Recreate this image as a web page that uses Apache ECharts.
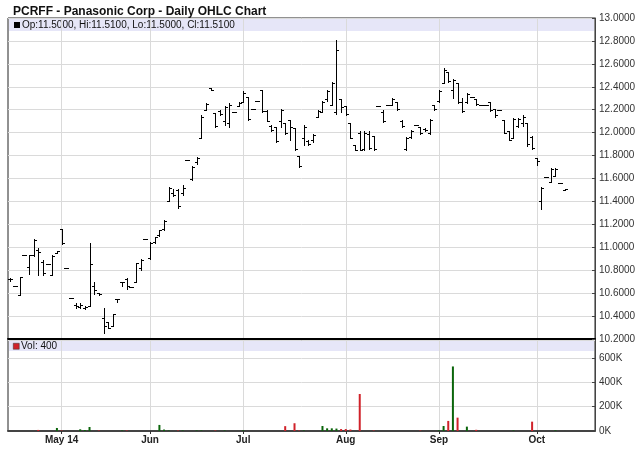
<!DOCTYPE html>
<html><head><meta charset="utf-8">
<script src="https://cdn.jsdelivr.net/npm/echarts@6/dist/echarts.min.js"></script>
<style>html,body{margin:0;padding:0;background:#fff}#c{width:640px;height:468px}</style>
</head><body><div id="c"></div>
<script>
const dates = [
'2014-04-15','2014-04-16','2014-04-17','2014-04-21','2014-04-22','2014-04-23','2014-04-24','2014-04-25','2014-04-28','2014-04-29','2014-04-30',
'2014-05-01','2014-05-02','2014-05-05','2014-05-06','2014-05-07','2014-05-08','2014-05-12','2014-05-13','2014-05-14','2014-05-15','2014-05-16','2014-05-19','2014-05-20','2014-05-21','2014-05-22','2014-05-27','2014-05-28','2014-05-29','2014-05-30',
'2014-06-02','2014-06-03','2014-06-04','2014-06-05','2014-06-06','2014-06-09','2014-06-10','2014-06-11','2014-06-12','2014-06-13','2014-06-16','2014-06-17','2014-06-18','2014-06-19','2014-06-23','2014-06-24','2014-06-25','2014-06-26','2014-06-27','2014-06-30',
'2014-07-01','2014-07-02','2014-07-03','2014-07-07','2014-07-08','2014-07-09','2014-07-10','2014-07-11','2014-07-14','2014-07-15','2014-07-16','2014-07-17','2014-07-18','2014-07-21','2014-07-22','2014-07-23','2014-07-24','2014-07-25','2014-07-28','2014-07-29','2014-07-30','2014-07-31',
'2014-08-01','2014-08-04','2014-08-05','2014-08-06','2014-08-07','2014-08-08','2014-08-11','2014-08-12','2014-08-13','2014-08-14','2014-08-15','2014-08-18','2014-08-19','2014-08-20','2014-08-21','2014-08-25','2014-08-26','2014-08-27','2014-08-28','2014-08-29',
'2014-09-02','2014-09-03','2014-09-04','2014-09-05','2014-09-08','2014-09-09','2014-09-10','2014-09-11','2014-09-12','2014-09-15','2014-09-16','2014-09-17','2014-09-18','2014-09-19','2014-09-22','2014-09-23','2014-09-24','2014-09-25','2014-09-26','2014-09-29','2014-09-30',
'2014-10-01','2014-10-02','2014-10-03','2014-10-06','2014-10-07','2014-10-08','2014-10-09',
'2014-10-10','2014-10-13','2014-10-14','2014-10-15','2014-10-16','2014-10-17'
];
const monthLabels = ['May 14','Jun','Jul','Aug','Sep','Oct'];
const priceTicks = {min: 10.2, max: 13.0, step: 0.2};
const volTicks = {min: 0, max: 750000, step: 200000};

const opens = [
10.72,10.66,10.58,10.93,10.83,10.93,10.98,10.87,10.85,10.76,
10.95,11.16,10.82,10.56,10.50,10.48,10.47,10.49,10.66,10.60,
10.38,10.35,10.31,10.55,10.70,10.72,10.65,10.70,10.82,11.07,
10.91,11.05,11.11,11.16,11.40,11.47,11.50,11.47,11.76,11.60,
11.74,11.95,12.20,12.39,12.17,12.19,12.10,12.08,12.18,12.23,
12.27,12.31,12.21,12.28,12.37,12.19,12.06,12.05,12.10,12.08,
12.11,12.04,11.80,11.95,11.93,11.94,12.14,12.18,12.29,12.24,
12.18,12.29,12.23,12.08,11.89,12.00,11.86,11.99,11.97,12.23,
12.18,12.24,12.24,12.27,12.10,11.86,11.96,12.07,12.05,12.03,
12.00,12.24,12.28,12.43,12.53,12.37,12.43,12.27,12.27,12.31,
12.29,12.24,12.24,12.27,12.21,12.20,12.11,12.01,11.95,12.06,
12.08,12.08,11.96,11.78,11.40,11.61,11.57,11.62,11.56,11.50];
const highs = [
10.73,10.66,10.74,10.93,10.93,11.07,10.99,10.89,10.85,10.93,
10.97,11.16,10.82,10.56,10.51,10.51,10.49,11.04,10.70,10.60,
10.47,10.35,10.42,10.55,10.70,10.73,10.65,10.86,10.90,11.07,
11.05,11.09,11.15,11.24,11.53,11.51,11.51,11.54,11.76,11.71,
11.79,12.15,12.26,12.39,12.17,12.20,12.23,12.26,12.18,12.27,
12.36,12.31,12.21,12.28,12.37,12.20,12.07,12.05,12.21,12.08,
12.11,12.04,11.80,12.07,11.94,11.99,12.20,12.28,12.37,12.44,
12.81,12.29,12.23,12.08,11.89,12.01,12.01,12.01,11.97,12.23,
12.20,12.24,12.30,12.27,12.11,11.96,12.02,12.07,12.05,12.04,
12.12,12.24,12.37,12.56,12.53,12.47,12.43,12.30,12.35,12.31,
12.29,12.24,12.24,12.27,12.21,12.20,12.11,12.01,12.13,12.13,
12.15,12.08,11.97,11.78,11.53,11.61,11.69,11.69,11.56,11.51];
const lows = [
10.71,10.66,10.58,10.93,10.77,10.92,10.76,10.76,10.85,10.76,
10.95,11.03,10.82,10.56,10.47,10.47,10.46,10.49,10.59,10.58,
10.25,10.30,10.31,10.52,10.66,10.64,10.65,10.70,10.80,11.07,
10.90,11.04,11.10,11.15,11.40,11.45,11.34,11.46,11.76,11.59,
11.73,11.95,12.20,12.37,12.05,12.15,12.07,12.05,12.18,12.23,
12.27,12.11,12.21,12.28,12.18,12.10,12.01,11.92,12.05,11.99,
11.94,11.85,11.70,11.89,11.89,11.92,12.14,12.18,12.28,12.24,
12.16,12.18,12.15,11.95,11.85,11.85,11.85,11.86,11.85,12.23,
12.09,12.24,12.24,12.20,12.05,11.85,11.95,12.07,11.99,12.01,
11.99,12.20,12.27,12.43,12.44,12.30,12.26,12.18,12.26,12.31,
12.24,12.24,12.24,12.19,12.14,12.20,12.00,11.94,11.95,12.05,
12.06,11.88,11.86,11.72,11.33,11.61,11.57,11.62,11.56,11.50];
const closes = [
10.72,10.66,10.74,10.93,10.93,11.06,10.96,10.78,10.85,10.92,
10.97,11.04,10.82,10.56,10.49,10.50,10.48,10.85,10.63,10.59,
10.31,10.30,10.42,10.55,10.70,10.66,10.65,10.86,10.89,11.07,
11.04,11.09,11.15,11.23,11.52,11.46,11.36,11.52,11.76,11.70,
11.78,12.14,12.25,12.37,12.06,12.16,12.22,12.24,12.18,12.26,
12.35,12.12,12.21,12.28,12.19,12.10,12.02,11.93,12.20,12.00,
12.05,11.86,11.71,12.05,11.90,11.98,12.19,12.27,12.36,12.43,
12.72,12.22,12.16,11.95,11.85,11.85,12.00,11.87,11.86,12.23,
12.10,12.24,12.29,12.21,12.06,11.95,12.01,12.07,12.00,12.02,
12.11,12.21,12.36,12.55,12.45,12.46,12.27,12.19,12.34,12.31,
12.25,12.24,12.24,12.20,12.15,12.20,12.00,11.94,12.12,12.12,
12.14,11.90,11.87,11.75,11.52,11.61,11.68,11.68,11.56,11.51];
const volumes = [
0,0,0,0,0,0,9000,0,0,0,
25000,4000,0,0,0,14000,8000,33000,0,4000,
0,0,0,0,4000,4000,0,0,0,0,
0,0,50000,12000,4000,0,4000,4000,0,0,
4000,4000,0,0,4000,0,4000,0,0,0,
5000,0,0,0,0,0,0,0,0,40000,
0,64000,4000,4000,0,0,0,41000,22000,22000,
20000,16000,16000,12000,0,305000,0,0,4000,0,
0,0,0,0,0,0,0,0,4000,0,
0,0,5000,41000,83000,532000,110000,0,36000,0,
10000,0,0,0,0,0,0,0,4000,0,
0,0,77000,0,0,0,0,5000,0,400];

const n = closes.length;
const ohlc = [];
for (let i = 0; i < n; i++) ohlc.push([i, opens[i], highs[i], lows[i], closes[i]]);
const volData = volumes.map((v, i) => ({
  value: v,
  itemStyle: {color: closes[i] >= opens[i] ? '#0b650b' : '#d0222a'}
}));

// month-start categories
const monthStartIdx = [];
for (let i = 1; i < dates.length; i++) {
  if (dates[i].slice(5, 7) !== dates[i - 1].slice(5, 7)) monthStartIdx.push(i);
}
const labelMap = {};
monthStartIdx.forEach((idx, k) => { labelMap[dates[idx]] = monthLabels[k] || ''; });
const isMonthStart = (idx) => monthStartIdx.indexOf(idx) >= 0;

const last = n - 1;
const legendText = 'Op:' + opens[last].toFixed(4) + ', Hi:' + highs[last].toFixed(4) +
  ', Lo:' + lows[last].toFixed(4) + ', Cl:' + closes[last].toFixed(4);
const volText = 'Vol: ' + volumes[last];

const FONT = '"Liberation Sans", Arial, sans-serif';
const gridColor = '#dadada';

function renderOHLC(params, api) {
  const x = api.value(0);
  const pO = api.coord([x, api.value(1)]);
  const pH = api.coord([x, api.value(2)]);
  const pL = api.coord([x, api.value(3)]);
  const pC = api.coord([x, api.value(4)]);
  const cx = Math.round(pH[0]) + 0.5;
  const t = 2.5;
  const style = {stroke: '#000', lineWidth: 1};
  const yo = Math.round(pO[1]) + 0.5, yc = Math.round(pC[1]) + 0.5;
  return {type: 'group', children: [
    {type: 'line', shape: {x1: cx, y1: Math.round(pH[1]), x2: cx, y2: Math.round(pL[1]) + 1}, style: style},
    {type: 'line', shape: {x1: cx - t, y1: yo, x2: cx, y2: yo}, style: style},
    {type: 'line', shape: {x1: cx, y1: yc, x2: cx + t, y2: yc}, style: style}
  ]};
}

const chart = echarts.init(document.getElementById('c'), null, {renderer: 'canvas'});
chart.setOption({
  animation: false,
  backgroundColor: '#fff',
  textStyle: {fontFamily: FONT},
  title: {
    text: 'PCRFF - Panasonic Corp - Daily OHLC Chart',
    left: 8, top: 1,
    textStyle: {fontSize: 12, fontWeight: 'bold', color: '#111', fontFamily: FONT}
  },
  grid: [
    {left: 8, top: 18, width: 587, height: 321, show: true, borderColor: '#222', borderWidth: 1},
    {left: 8, top: 340, width: 587, height: 91, show: true, borderColor: '#222', borderWidth: 1}
  ],
  xAxis: [
    {
      type: 'category', gridIndex: 0, data: dates, boundaryGap: true,
      axisLine: {show: true, lineStyle: {color: '#000', width: 2}},
      axisTick: {show: false}, axisLabel: {show: false},
      splitLine: {show: true, alignWithLabel: true, interval: (i) => isMonthStart(i), lineStyle: {color: gridColor, width: 1}}
    },
    {
      type: 'category', gridIndex: 1, data: dates, boundaryGap: true,
      axisLine: {show: true, lineStyle: {color: '#444', width: 2}},
      axisTick: {show: true, alignWithLabel: true, length: 3, interval: (i) => isMonthStart(i), lineStyle: {color: '#333'}},
      axisLabel: {show: true, interval: (i) => isMonthStart(i), formatter: (v) => labelMap[v] || '',
        fontSize: 10, fontWeight: 'bold', color: '#222', margin: 4, fontFamily: FONT},
      splitLine: {show: true, alignWithLabel: true, interval: (i) => isMonthStart(i), lineStyle: {color: gridColor, width: 1}}
    }
  ],
  yAxis: [
    {
      type: 'value', gridIndex: 0, position: 'right', scale: true,
      min: priceTicks.min, max: priceTicks.max, interval: priceTicks.step,
      axisLine: {show: true, lineStyle: {color: '#444'}},
      axisTick: {show: true, inside: true, length: 3, lineStyle: {color: '#444'}},
      axisLabel: {formatter: (v) => v.toFixed(4), fontSize: 10, color: '#333', margin: 4, fontFamily: FONT},
      splitLine: {show: true, lineStyle: {color: gridColor}}
    },
    {
      type: 'value', gridIndex: 1, position: 'right',
      min: volTicks.min, max: volTicks.max, interval: volTicks.step,
      axisLine: {show: true, lineStyle: {color: '#444'}},
      axisTick: {show: true, inside: true, length: 3, lineStyle: {color: '#444'}},
      axisLabel: {showMaxLabel: false, formatter: (v) => (v % volTicks.step === 0 ? (v / 1000) + 'K' : ''),
        fontSize: 10, color: '#333', margin: 4, fontFamily: FONT},
      splitLine: {show: true, lineStyle: {color: gridColor}}
    }
  ],
  graphic: [
    {type: 'rect', left: 9, top: 19, z: -10, shape: {width: 585, height: 12}, style: {fill: '#e6e6f8'}},
    {type: 'rect', left: 14, top: 22, shape: {width: 6, height: 6}, style: {fill: '#000'}},
    {type: 'text', left: 22, top: 20, style: {text: legendText, fill: '#111', font: '10px ' + FONT}},
    {type: 'rect', left: 9, top: 341, z: -10, shape: {width: 585, height: 10}, style: {fill: '#e6e6f8'}},
    {type: 'rect', left: 13, top: 343, shape: {width: 6, height: 6}, style: {fill: '#d0222a', stroke: '#333', lineWidth: 0.5}},
    {type: 'text', left: 21, top: 341, style: {text: volText, fill: '#111', font: '10px ' + FONT}}
  ],
  series: [
    {
      type: 'custom', name: 'OHLC', xAxisIndex: 0, yAxisIndex: 0,
      renderItem: renderOHLC, data: ohlc,
      encode: {x: 0, y: [1, 2, 3, 4]},
      markLine: {
        silent: true, symbol: ['none', 'none'],
        lineStyle: {opacity: 0},
        label: {show: true, position: 'end', distance: 3, formatter: (p) => Number(p.value).toFixed(4),
          color: '#fff', backgroundColor: '#000', padding: [1, 1, 0, 1], fontSize: 10, fontFamily: FONT},
        data: [{yAxis: closes[last]}]
      }
    },
    {
      type: 'bar', name: 'Volume', xAxisIndex: 1, yAxisIndex: 1,
      data: volData, barWidth: 2
    }
  ]
});
</script>
</body></html>
